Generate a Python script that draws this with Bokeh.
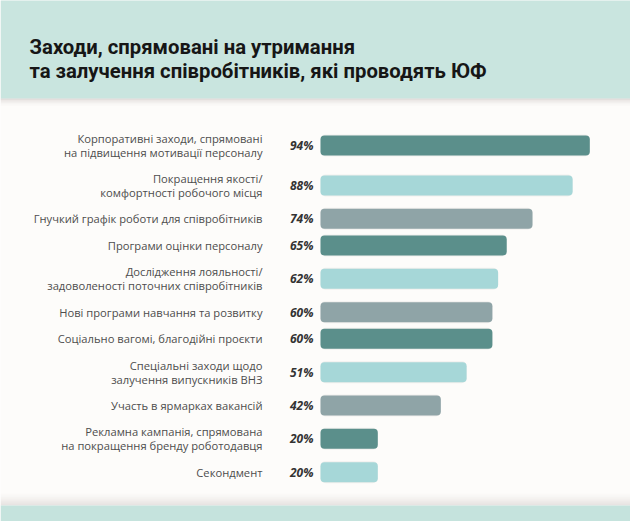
from bokeh.plotting import figure
from bokeh.models import Range1d, BoxAnnotation, Label, ColumnDataSource
from bokeh.core.properties import value
from bokeh.embed import file_html
from bokeh.resources import INLINE

# ---- data ----
categories = [
    "Корпоративні заходи, спрямовані\nна підвищення мотивації персоналу",
    "Покращення якості/\nкомфортності робочого місця",
    "Гнучкий графік роботи для співробітників",
    "Програми оцінки персоналу",
    "Дослідження лояльності/\nзадоволеності поточних співробітників",
    "Нові програми навчання та розвитку",
    "Соціально вагомі, благодійні проєкти",
    "Спеціальні заходи щодо\nзалучення випускників ВНЗ",
    "Участь в ярмарках вакансій",
    "Рекламна кампанія, спрямована\nна покращення бренду роботодавця",
    "Секондмент",
]
values = [94, 88, 74, 65, 62, 60, 60, 51, 42, 20, 20]
title_lines = [
    "Заходи, спрямовані на утримання",
    "та залучення співробітників, які проводять ЮФ",
]

# ---- layout / style ----
W, H = 630, 521
palette = ["#5b8f8b", "#a6d7d8", "#8fa4a7"]
PX_PER_UNIT = 2.865
ZERO_PX = 320  # figure pixel of x=0

# row positions derived from number of label lines
half_one, half_two = 13.33, 20.0
ys = []
top = 125.0
for c in categories:
    h = half_two if "\n" in c else half_one
    ys.append(top + h)
    top += 2 * h

colors = [palette[i % 3] for i in range(len(values))]
pct = [f"{v}%" for v in values]
src = ColumnDataSource(dict(y=ys, v=values, cat=categories, pct=pct,
                            color=colors, zero=[0] * len(values)))

p = figure(width=W, height=H, output_backend="svg", toolbar_location=None,
           x_range=Range1d(-ZERO_PX / PX_PER_UNIT, (W - ZERO_PX) / PX_PER_UNIT),
           y_range=Range1d(H, 0), min_border=0)
p.axis.visible = False
p.grid.visible = False
p.outline_line_color = None
p.background_fill_color = "#fdfcfa"
p.border_fill_color = "#fdfcfa"

# title band + shadow
p.add_layout(BoxAnnotation(top=-20, bottom=98, fill_color="#c9e5df",
                           fill_alpha=1, line_color=None, level="underlay"))
for i, a in enumerate([0.22, 0.15, 0.09, 0.05, 0.02]):
    p.add_layout(BoxAnnotation(top=98 + i * 1.5, bottom=99.5 + i * 1.5,
                               fill_color="#8a7a78", fill_alpha=a,
                               line_color=None, level="underlay"))
# bottom band + shadow
for i, a in enumerate([0.02, 0.04, 0.07, 0.1, 0.14, 0.18]):
    p.add_layout(BoxAnnotation(top=493 + i * 2, bottom=495 + i * 2,
                               fill_color="#8a7a78", fill_alpha=a,
                               line_color=None, level="underlay"))
p.add_layout(BoxAnnotation(top=505, bottom=540, fill_color="#c5e3dd",
                           fill_alpha=1, line_color=None, level="underlay"))

# bar halo
p.hbar(y="y", left="zero", right="v", height=22, source=src,
       fill_color="#000000", fill_alpha=0.05, line_color=None,
       border_radius=5)
p.hbar(y="y", left="zero", right="v", height=20, source=src,
       fill_color="color", line_color=None, border_radius=4)

# percentage labels
p.text(x="zero", y="y", text="pct", source=src, x_offset=-7,
       text_align="right", text_baseline="middle",
       text_font=value("Open Sans"), text_font_style="bold italic",
       text_font_size="12px", text_color="#333333")

# category labels
p.text(x="zero", y="y", text="cat", source=src, x_offset=-58,
       text_align="right", text_baseline="middle",
       text_font=value("Open Sans"), text_font_size="11.2px",
       text_color="#4d4d4d", text_line_height=0.92)

# title
for i, t in enumerate(title_lines):
    p.add_layout(Label(x=29, y=H - 46 - i * 24, x_units="screen", y_units="screen",
                       text=t, text_font="Roboto", text_font_style="bold",
                       text_font_size="20.3px", text_color="#161616",
                       text_baseline="alphabetic"))

html = file_html(p, INLINE)
open("out.html", "w").write(html)
